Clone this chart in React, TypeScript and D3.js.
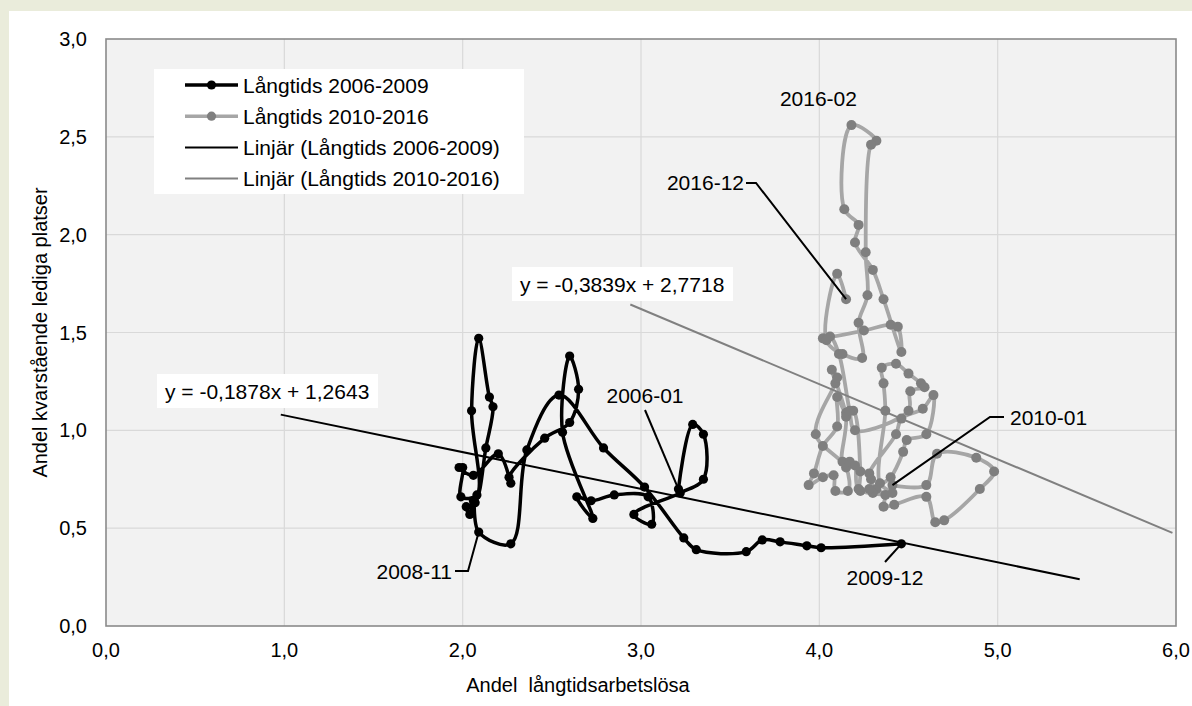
import * as d3 from 'd3'

type Pt = [number, number]

// x = andel långtidsarbetslösa, y = andel kvarstående lediga platser
const xTicks = [0, 1, 2, 3, 4, 5, 6]
const yTicks = [0, 0.5, 1, 1.5, 2, 2.5, 3]

// 2006-01 .. 2009-12
const lt2006_2009: Pt[] = [
  [3.21, 0.70], [3.29, 1.03], [3.35, 0.98], [3.35, 0.75], [3.22, 0.68], [2.96, 0.57],
  [3.06, 0.52], [3.04, 0.66], [2.85, 0.67], [2.72, 0.64], [2.64, 0.66], [2.73, 0.55],
  [2.56, 0.99], [2.60, 1.38], [2.65, 1.21], [2.60, 1.04], [2.46, 0.96], [2.26, 0.76],
  [2.27, 0.73], [2.20, 0.88], [2.06, 0.77], [1.98, 0.81], [2.00, 0.81], [1.99, 0.66],
  [2.08, 0.67], [2.05, 1.10], [2.09, 1.47], [2.15, 1.17], [2.17, 1.12], [2.13, 0.91],
  [2.07, 0.63], [2.02, 0.61], [2.04, 0.57], [2.06, 0.64], [2.09, 0.48], [2.27, 0.42],
  [2.36, 0.90], [2.54, 1.18], [2.79, 0.91], [3.02, 0.71], [3.24, 0.45], [3.31, 0.39],
  [3.59, 0.38], [3.68, 0.44], [3.78, 0.43], [3.93, 0.41], [4.01, 0.40], [4.46, 0.42],
]

// 2010-01 .. 2016-12
const lt2010_2016: Pt[] = [
  [4.41, 0.72], [4.60, 0.72], [4.66, 0.88], [4.88, 0.86], [4.98, 0.79], [4.90, 0.70],
  [4.70, 0.54], [4.65, 0.53], [4.60, 0.66], [4.42, 0.62], [4.36, 0.61], [4.37, 0.67],
  [4.32, 0.70], [4.40, 0.76], [4.47, 0.89], [4.49, 0.95], [4.60, 0.98], [4.64, 1.18],
  [4.58, 1.11], [4.46, 1.06], [4.43, 0.98], [4.28, 0.78], [4.29, 0.75], [4.30, 0.68],
  [4.28, 0.70], [4.23, 0.69], [4.23, 0.79], [4.19, 1.10], [4.15, 1.09], [4.10, 1.17],
  [4.10, 1.02], [4.02, 0.92], [3.97, 0.78], [3.94, 0.72], [4.02, 0.76], [4.08, 0.77],
  [4.09, 0.69], [4.16, 0.69], [4.15, 0.81], [3.98, 0.98], [4.09, 1.24], [4.10, 1.27],
  [4.07, 1.31], [4.15, 1.07], [4.13, 0.84], [4.17, 0.84], [4.20, 0.82], [4.22, 0.70],
  [4.41, 0.68], [4.34, 0.73], [4.37, 1.10], [4.36, 1.24], [4.35, 1.32], [4.43, 1.34],
  [4.50, 1.29], [4.57, 1.24], [4.59, 1.22], [4.51, 1.20], [4.50, 1.10], [4.20, 1.00],
  [4.17, 1.10], [4.11, 1.39], [4.06, 1.48], [4.02, 1.47], [4.25, 1.51], [4.40, 1.54],
  [4.44, 1.53], [4.46, 1.40], [4.36, 1.67], [4.30, 1.82], [4.20, 1.96], [4.22, 2.05],
  [4.14, 2.13], [4.18, 2.56], [4.32, 2.48], [4.29, 2.46], [4.26, 1.91], [4.27, 1.69],
  [4.22, 1.55], [4.24, 1.37], [4.13, 1.39], [4.04, 1.46], [4.10, 1.80], [4.15, 1.67],
]

const legendLabels = [
  'Långtids 2006-2009',
  'Långtids 2010-2016',
  'Linjär (Långtids 2006-2009)',
  'Linjär (Långtids 2010-2016)',
]
const trendSlopes = [-0.1878, -0.3839]
const trendIntercepts = [1.2643, 2.7718]
const trendLabels = ['y = -0,1878x + 1,2643', 'y = -0,3839x + 2,7718']

const W = 1192
const H = 706
const FONT = '"Liberation Sans", Arial, sans-serif'

export default function App() {
  const x = d3.scaleLinear().domain([0, 6]).range([106, 1176])
  const y = d3.scaleLinear().domain([0, 3]).range([626, 39])
  const fmt = (v: number) => d3.format('.1f')(v).replace('.', ',')

  const line = d3
    .line<Pt>()
    .x(d => x(d[0]))
    .y(d => y(d[1]))
    .curve(d3.curveCatmullRom.alpha(0.5))

  // trendlinjer, 1,0 framåt och bakåt
  const trend = (data: Pt[], i: number): Pt[] => {
    const [lo, hi] = d3.extent(data, d => d[0]) as [number, number]
    const x0 = lo - 1
    const x1 = Math.min(hi + 1, 6)
    return [
      [x0, trendSlopes[i] * x0 + trendIntercepts[i]],
      [x1, trendSlopes[i] * x1 + trendIntercepts[i]],
    ]
  }
  const t1 = trend(lt2006_2009, 0)
  const t2 = trend(lt2010_2016, 1)
  const straight = d3.line<Pt>().x(d => x(d[0])).y(d => y(d[1]))

  const p0601 = lt2006_2009[0]
  const p0811 = lt2006_2009[34]
  const p0912 = lt2006_2009[47]
  const p1001 = lt2010_2016[0]
  const p1602 = lt2010_2016[73]
  const p1612 = lt2010_2016[83]

  return (
    <svg width={W} height={H} style={{ position: 'absolute', left: 0, top: 0 }} fontFamily={FONT}>
      <rect width={W} height={H} fill="#EAECDB" />
      <rect x={9} y={11} width={W - 9} height={H - 11} fill="#FFFFFF" />

      <rect x={106} y={39} width={1070} height={587} fill="#F2F2F2" />
      {xTicks.slice(1, -1).map(t => (
        <line key={'gx' + t} x1={x(t)} x2={x(t)} y1={39} y2={626} stroke="#D9D9D9" strokeWidth={1.2} />
      ))}
      {yTicks.slice(1, -1).map(t => (
        <line key={'gy' + t} x1={106} x2={1176} y1={y(t)} y2={y(t)} stroke="#D9D9D9" strokeWidth={1.2} />
      ))}
      <rect x={106} y={39} width={1070} height={587} fill="none" stroke="#8A8A8A" strokeWidth={1.6} />

      {xTicks.map(t => (
        <text key={'tx' + t} x={x(t)} y={657} fontSize={20} textAnchor="middle" fill="#000">
          {fmt(t)}
        </text>
      ))}
      {yTicks.map(t => (
        <text key={'ty' + t} x={87} y={y(t) + 7} fontSize={20} textAnchor="end" fill="#000">
          {fmt(t)}
        </text>
      ))}

      <text x={578} y={692} fontSize={20} textAnchor="middle" fill="#000" style={{ whiteSpace: 'pre' }}>
        {'Andel  långtidsarbetslösa'}
      </text>
      <text
        transform={`translate(47,${(39 + 626) / 2}) rotate(-90)`}
        fontSize={20}
        textAnchor="middle"
        fill="#000"
      >
        Andel kvarstående lediga platser
      </text>

      {/* serie 2006-2009 */}
      <path d={line(lt2006_2009) ?? ''} fill="none" stroke="#000" strokeWidth={3.5} />
      {lt2006_2009.map((d, i) => (
        <circle key={'a' + i} cx={x(d[0])} cy={y(d[1])} r={4.6} fill="#000" />
      ))}

      {/* serie 2010-2016 */}
      <path d={line(lt2010_2016) ?? ''} fill="none" stroke="#A6A6A6" strokeWidth={3.8} />
      {lt2010_2016.map((d, i) => (
        <circle key={'b' + i} cx={x(d[0])} cy={y(d[1])} r={5} fill="#7F7F7F" />
      ))}

      <path d={straight(t1) ?? ''} stroke="#000" strokeWidth={2} fill="none" />
      <path d={straight(t2) ?? ''} stroke="#808080" strokeWidth={2} fill="none" />

      {/* etiketter */}
      <rect x={157} y={374} width={221} height={34} fill="#FFF" />
      <text x={165} y={399} fontSize={21} fill="#000">{trendLabels[0]}</text>
      <rect x={512} y={267} width={221} height={34} fill="#FFF" />
      <text x={520} y={292} fontSize={21} fill="#000">{trendLabels[1]}</text>

      <g stroke="#000" strokeWidth={2} fill="none">
        <line x1={645} y1={410} x2={x(p0601[0])} y2={y(p0601[1])} />
        <polyline points={`455,571 468,571 ${x(p0811[0])},${y(p0811[1])}`} />
        <line x1={885} y1={562} x2={x(p0912[0])} y2={y(p0912[1])} />
        <polyline points={`1004,417 990,417 ${x(p1001[0])},${y(p1001[1])}`} />
        <polyline points={`746,183 756,183 ${x(p1612[0])},${y(p1612[1])}`} />
      </g>
      <g fontSize={21} fill="#000">
        <text x={645} y={403} textAnchor="middle">2006-01</text>
        <text x={452} y={579} textAnchor="end">2008-11</text>
        <text x={885} y={585} textAnchor="middle">2009-12</text>
        <text x={1010} y={425}>2010-01</text>
        <text x={x(p1602[0]) - 33} y={y(p1602[1]) - 19} textAnchor="middle">2016-02</text>
        <text x={744} y={190} textAnchor="end">2016-12</text>
      </g>

      {/* legend */}
      <rect x={154} y={69} width={370} height={125} fill="#FFF" />
      {legendLabels.map((lab, i) => {
        const cy = 85 + i * 31.2
        const dark = i % 2 === 0
        const isSeries = i < 2
        return (
          <g key={lab}>
            <line
              x1={185}
              x2={238}
              y1={cy}
              y2={cy}
              stroke={isSeries ? (dark ? '#000' : '#A6A6A6') : dark ? '#000' : '#808080'}
              strokeWidth={isSeries ? 3.5 : 2}
            />
            {isSeries && <circle cx={211.5} cy={cy} r={4.6} fill={dark ? '#000' : '#7F7F7F'} />}
            <text x={243} y={cy + 7.5} fontSize={21} fill="#000">{lab}</text>
          </g>
        )
      })}
    </svg>
  )
}
